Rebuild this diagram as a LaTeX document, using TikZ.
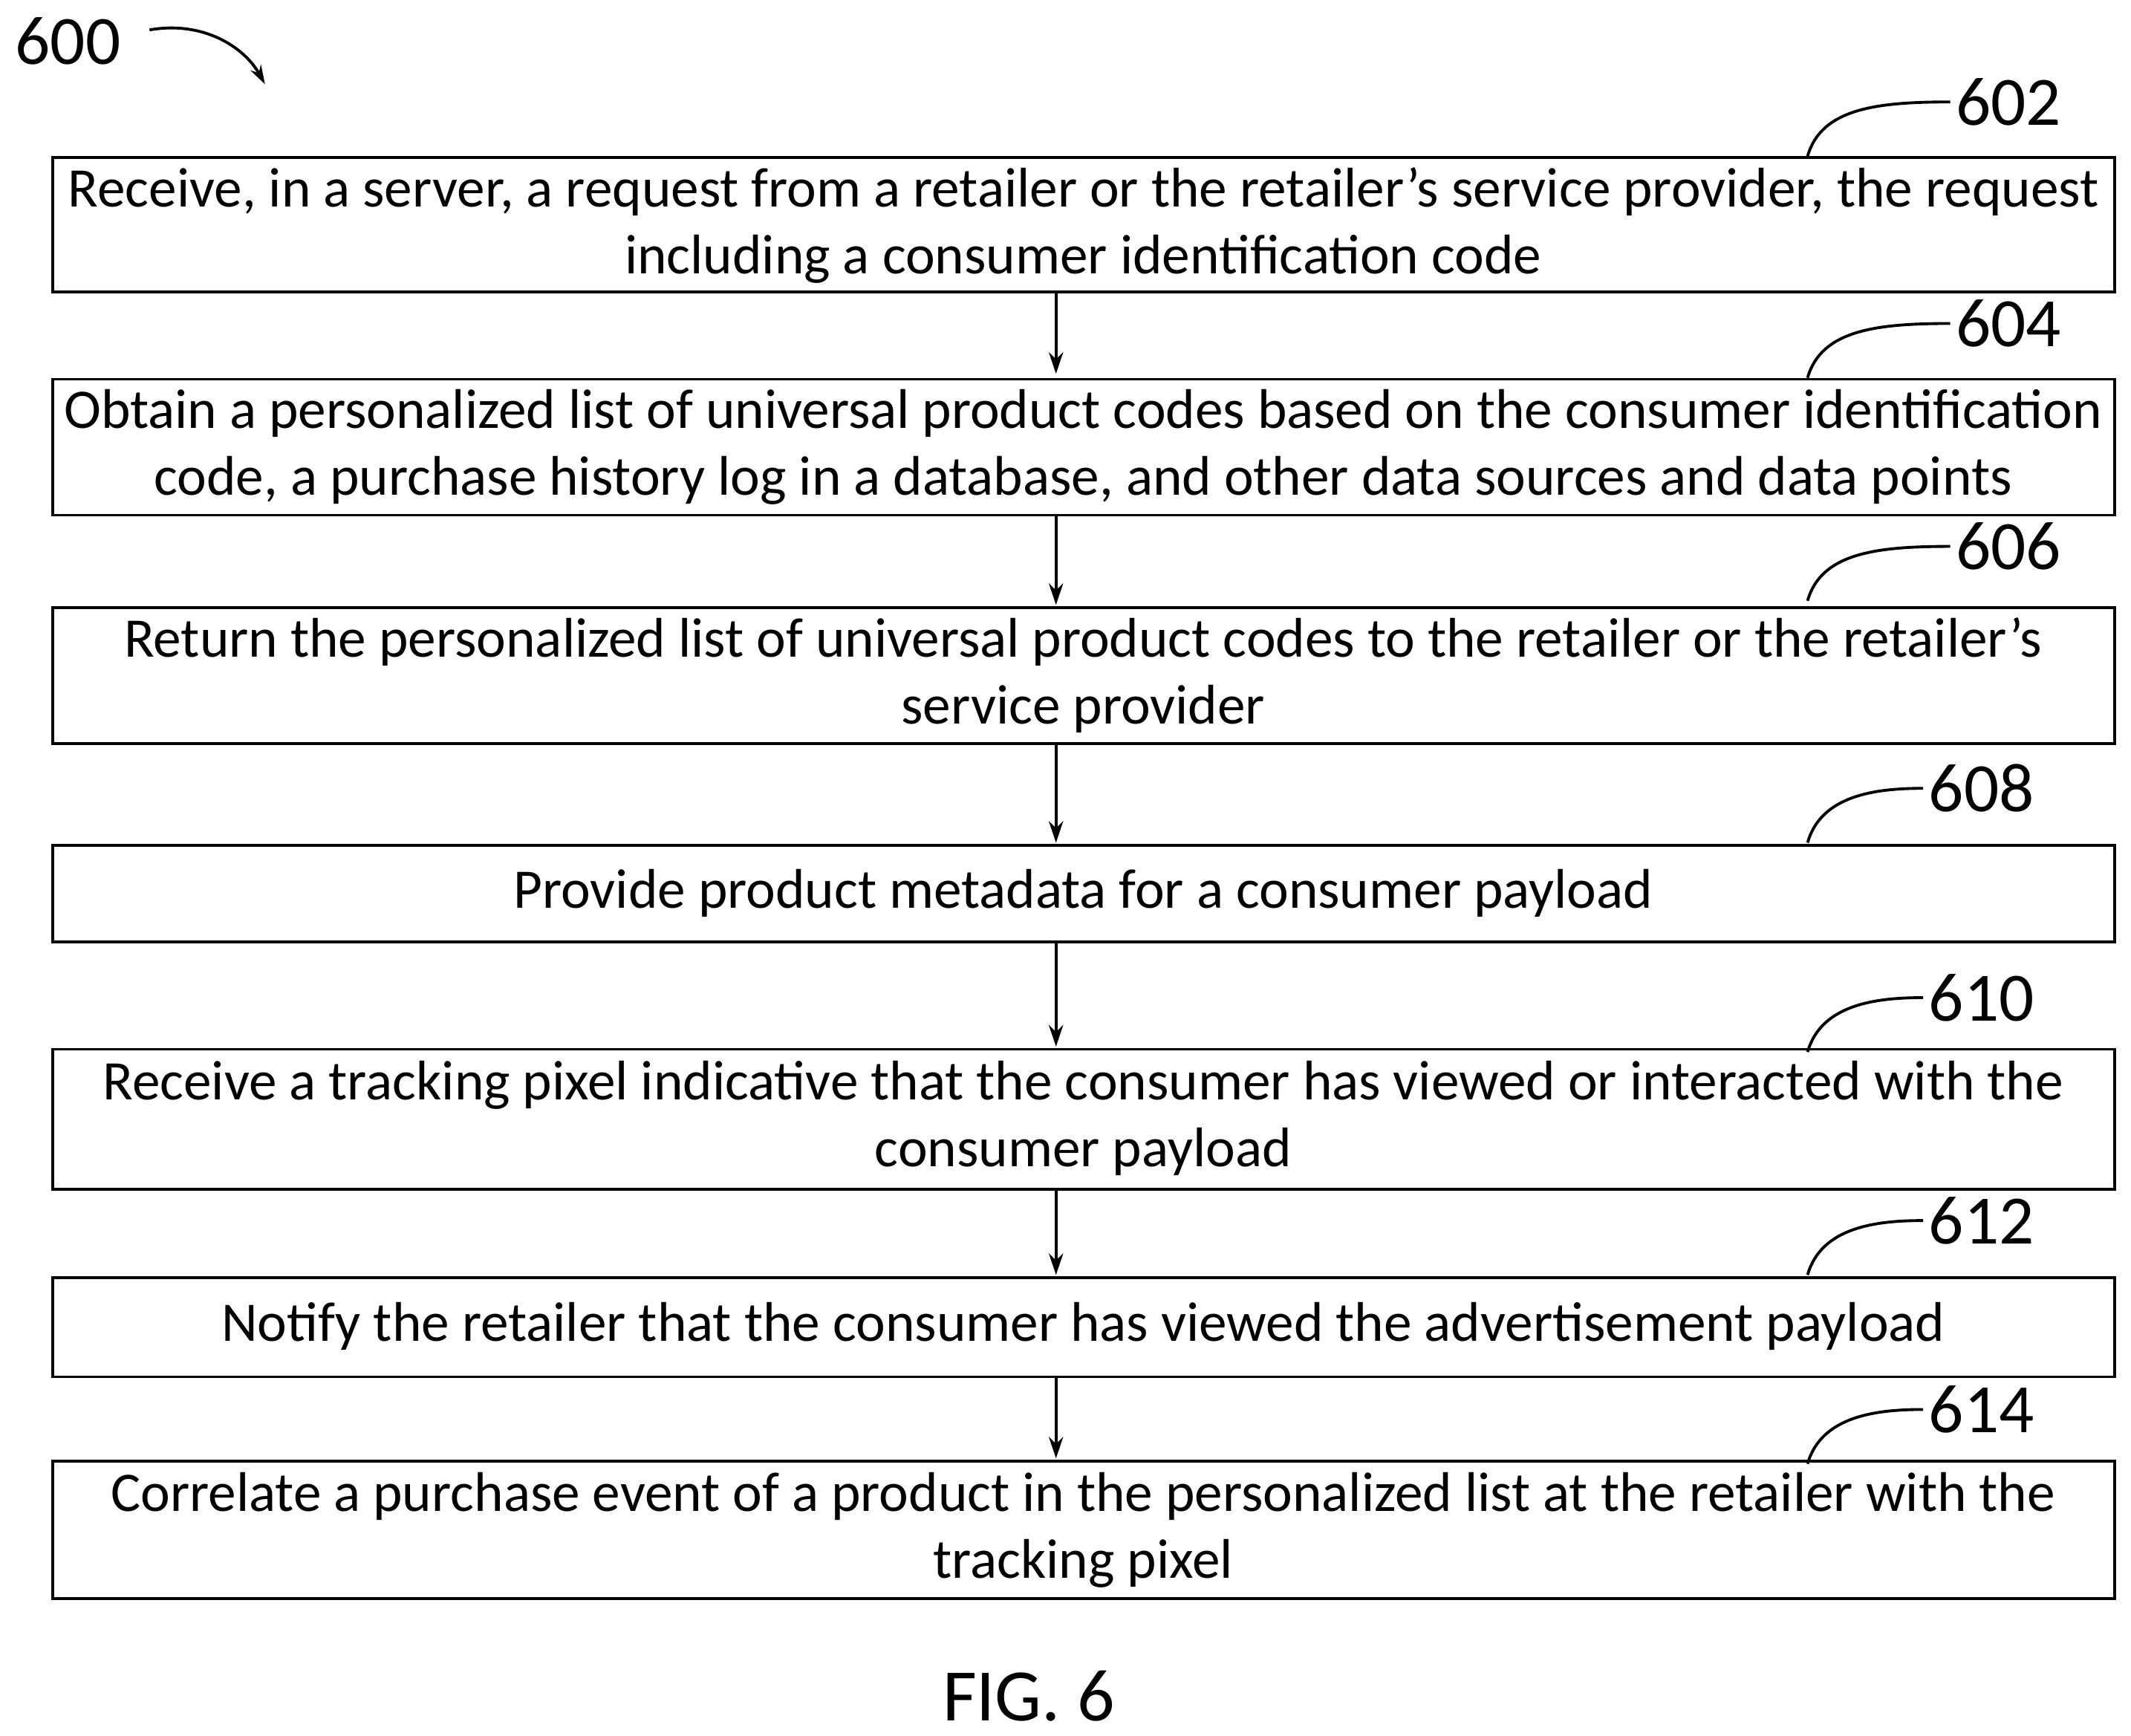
\documentclass[tikz,border=0pt]{standalone}
\usepackage{fontspec}
\setmainfont{Carlito}
\usetikzlibrary{arrows.meta}
\begin{document}
\begin{tikzpicture}[x=0.02cm,y=-0.02cm,
  box/.style={draw,line width=1.2pt,inner sep=0pt},
  txt/.style={align=center,font=\fontsize{23.4}{28}\selectfont},
  num/.style={font=\fontsize{29}{32}\selectfont},
  arr/.style={-{Stealth[length=9pt,width=6pt]},line width=1.2pt},
  lead/.style={line width=1.2pt}]
\useasboundingbox (0,0) rectangle (1568,1277);
% boxes
\draw[box] (39,116) rectangle (1556,215);
\draw[box] (39,279) rectangle (1556,379);
\draw[box] (39,447) rectangle (1556,547);
\draw[box] (39,622) rectangle (1556,693);
\draw[box] (39,772) rectangle (1556,875);
\draw[box] (39,940) rectangle (1556,1013);
\draw[box] (39,1075) rectangle (1556,1176);
\node[txt] (t602) at (797,166) {Receive, in a server, a request from a retailer or the retailer’s service provider, the request\\including a consumer identification code};
\node[txt] (t604) at (797,329) {Obtain a personalized list of universal product codes based on the consumer identification\\code, a purchase history log in a database, and other data sources and data points};
\node[txt] (t606) at (797,497) {Return the personalized list of universal product codes to the retailer or the retailer’s\\service provider};
\node[txt] (t608) at (797,657) {Provide product metadata for a consumer payload};
\node[txt] (t610) at (797,823) {Receive a tracking pixel indicative that the consumer has viewed or interacted with the\\consumer payload};
\node[txt] (t612) at (797,976) {Notify the retailer that the consumer has viewed the advertisement payload};
\node[txt] (t614) at (797,1126) {Correlate a purchase event of a product in the personalized list at the retailer with the\\tracking pixel};
% arrows
\coordinate (a1) at (777,215); \coordinate (b1) at (777,275);
\coordinate (a2) at (777,379); \coordinate (b2) at (777,445);
\coordinate (a3) at (777,547); \coordinate (b3) at (777,620);
\coordinate (a4) at (777,693); \coordinate (b4) at (777,770);
\coordinate (a5) at (777,875); \coordinate (b5) at (777,938);
\coordinate (a6) at (777,1013); \coordinate (b6) at (777,1073);
\foreach \i in {1,...,6} \draw[arr] (a\i) -- (b\i);
% labels
\foreach \n/\y/\lx in {602/75/1477,604/238/1477,606/402/1477,608/580/1457,610/734/1457,612/898/1457,614/1037/1457}{
  \node[num,anchor=west] (l\n) at (\lx-44,\y) {\n};
  \draw[lead] (1330,\y+40) .. controls (1340,\y+5) and (1380,\y) .. (\lx-42,\y);
}
\node[num] (l600) at (50,30) {600};
\coordinate (c600) at (195,62);
\draw[-{Stealth[length=8pt,width=5pt]},line width=1.2pt] (110,22) .. controls (150,15) and (180,35) .. (c600);
\node[font=\fontsize{31}{34}\selectfont] (fig) at (757,1248) {FIG. 6};
\end{tikzpicture}
\end{document}
